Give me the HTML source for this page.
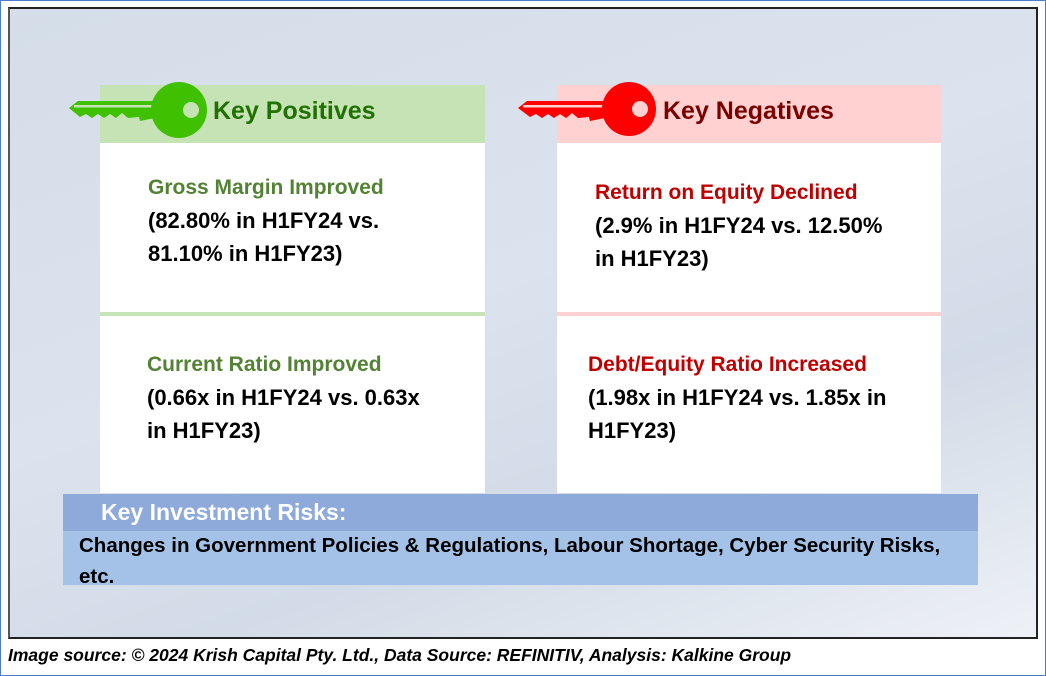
<!DOCTYPE html>
<html><head><meta charset="utf-8"><style>
body{margin:0;width:1046px;height:676px;background:#fff;position:relative;overflow:hidden;font-family:"Liberation Sans",sans-serif;font-weight:bold}
.a{position:absolute}
.t{position:absolute;font-size:21px;white-space:nowrap}
.b{font-size:22px;line-height:33px;color:#000}
</style></head><body>
<div class="a" style="left:0;top:0;width:1044px;height:674px;border:1px solid #4a7cc9"></div>
<div class="a" style="left:8px;top:7px;width:1026px;height:628px;border:2px solid #222;border-left-color:#555;background:linear-gradient(160deg,#d4dde8 0%,#dbe3ee 45%,#d2dbe7 70%,#eef1f6 100%)"></div>

<div class="a" style="left:100px;top:85px;width:385px;height:58px;background:#c5e3b5"></div>
<div class="a" style="left:100px;top:143px;width:385px;height:350px;background:#fff"></div>
<div class="a" style="left:100px;top:312px;width:385px;height:4px;background:#c5e3b5"></div>
<div class="a" style="left:557px;top:85px;width:384px;height:58px;background:#ffd1d1"></div>
<div class="a" style="left:557px;top:143px;width:384px;height:350px;background:#fff"></div>
<div class="a" style="left:557px;top:312px;width:384px;height:4px;background:#ffd1d1"></div>

<svg class="a" style="left:0;top:0" width="1046" height="160">
<path d="M69,108 L78,101 L155,101 L155,118 L140,121 L139,117 L128,118 L122,113 L116,118 L110,114 L104,118 L98,114 L92,118 L86,114 L80,117 L69,108Z" fill="#3fc000"/>
<rect x="74" y="105" width="86" height="2.5" fill="#c5e3b5"/>
<circle cx="179" cy="110" r="28" fill="#3fc000"/><circle cx="191" cy="110" r="8" fill="#c5e3b5"/>
<path d="M518,108 L527,101 L605,101 L605,118 L590,121 L589,117 L578,118 L572,113 L566,118 L560,114 L554,118 L548,114 L542,118 L536,114 L530,117 L518,108Z" fill="#ff0000"/>
<rect x="523" y="105" width="86" height="2.5" fill="#ffd1d1"/>
<circle cx="629" cy="109" r="27" fill="#ff0000"/><circle cx="640" cy="109" r="8" fill="#ffd1d1"/>
</svg>

<div class="t" style="left:213px;top:97px;font-size:25px;color:#217100">Key Positives</div>
<div class="t" style="left:663px;top:97px;font-size:25px;color:#7a0000">Key Negatives</div>

<div class="t" style="left:148px;top:176px;color:#548235">Gross Margin Improved</div>
<div class="t b" style="left:148px;top:204px">(82.80% in H1FY24 vs.<br>81.10% in H1FY23)</div>
<div class="t" style="left:147px;top:353px;color:#548235">Current Ratio Improved</div>
<div class="t b" style="left:147px;top:381px">(0.66x in H1FY24 vs. 0.63x<br>in H1FY23)</div>

<div class="t" style="left:595px;top:181px;color:#c00000">Return on Equity Declined</div>
<div class="t b" style="left:595px;top:209px">(2.9% in H1FY24 vs. 12.50%<br>in H1FY23)</div>
<div class="t" style="left:588px;top:353px;color:#c00000">Debt/Equity Ratio Increased</div>
<div class="t b" style="left:588px;top:381px">(1.98x in H1FY24 vs. 1.85x in<br>H1FY23)</div>

<div class="a" style="left:63px;top:494px;width:915px;height:37px;background:#8eaadb"></div>
<div class="a" style="left:63px;top:531px;width:915px;height:54px;background:#a4c2e8"></div>
<div class="t" style="left:101px;top:499px;font-size:23px;color:#fff">Key Investment Risks:</div>
<div class="t" style="left:79px;top:530px;line-height:31px;font-size:20.5px;color:#000">Changes in Government Policies &amp; Regulations, Labour Shortage, Cyber Security Risks,<br>etc.</div>

<div class="t" style="left:8px;top:645px;font-size:17.5px;font-style:italic;color:#000">Image source: © 2024 Krish Capital Pty. Ltd., Data Source: REFINITIV, Analysis: Kalkine Group</div>
</body></html>
